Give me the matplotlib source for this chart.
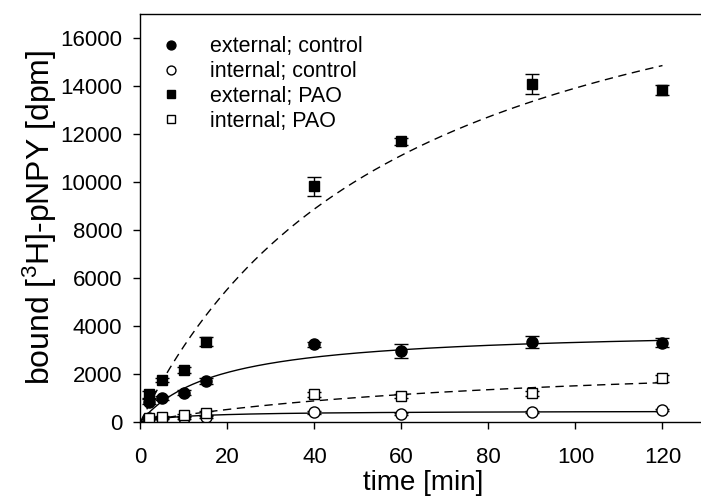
import numpy as np
import matplotlib
matplotlib.use("Agg")
import matplotlib.pyplot as plt

plt.rcParams['font.family'] = ['Liberation Sans', 'DejaVu Sans']
plt.rcParams['mathtext.default'] = 'regular'

time = [2, 5, 10, 15, 40, 60, 90, 120]
ext_control = [835, 1000, 1210, 1700, 3230, 2950, 3340, 3300]
ext_control_err = [100, 80, 100, 110, 100, 300, 250, 200]
int_control = [150, 150, 150, 200, 390, 320, 390, 480]
int_control_err = [30, 30, 30, 30, 50, 40, 40, 40]
ext_pao = [1150, 1740, 2160, 3340, 9810, 11690, 14080, 13820]
ext_pao_err = [150, 100, 120, 200, 400, 150, 400, 200]
int_pao = [150, 180, 280, 350, 1140, 1070, 1180, 1810]
int_pao_err = [40, 40, 40, 80, 100, 80, 100, 150]

# fitted hyperbolic association curves: (Bmax, K)
fit_ext_control = (3900, 18)
fit_int_control = (458, 10.9)
fit_ext_pao = (22400, 61)
fit_int_pao = (2895, 93.4)

fig = plt.figure(figsize=(7.01, 5.04), dpi=100)
ax = fig.add_axes([0.2004, 0.1633, 0.8067, 0.8089])

tt = np.linspace(0, 120, 300)
def hyp(p):
    return p[0] * tt / (p[1] + tt)

ax.plot(tt, hyp(fit_ext_control), '-', color='black', lw=1.0)
ax.plot(tt, hyp(fit_int_control), '-', color='black', lw=1.0)
ax.plot(tt, hyp(fit_ext_pao), '--', color='black', lw=1.0, dashes=(6, 4))
ax.plot(tt, hyp(fit_int_pao), '--', color='black', lw=1.0, dashes=(6, 4))

kw = dict(ls='none', ecolor='black', elinewidth=1.0, capsize=5, capthick=1.0)
ax.errorbar(time, ext_control, yerr=ext_control_err, marker='o', ms=8,
            mfc='black', mec='black', label='external; control', **kw)
ax.errorbar(time, int_control, yerr=int_control_err, marker='o', ms=8,
            mfc='white', mec='black', label='internal; control', **kw)
ax.errorbar(time, ext_pao, yerr=ext_pao_err, marker='s', ms=7,
            mfc='black', mec='black', label='external; PAO', **kw)
ax.errorbar(time, int_pao, yerr=int_pao_err, marker='s', ms=7,
            mfc='white', mec='black', label='internal; PAO', **kw)

ax.set_xlim(0, 130)
ax.set_ylim(0, 17000)
ax.set_xticks([0, 20, 40, 60, 80, 100, 120])
ax.set_yticks(range(0, 16001, 2000))
ax.tick_params(direction='out', length=5, width=1.0, labelsize=16)
ax.tick_params(axis='x', pad=13)
ax.tick_params(axis='y', pad=8)
for s in ax.spines.values():
    s.set_linewidth(1.0)

ax.set_xlabel('time [min]', fontsize=20, labelpad=2)
ax.set_ylabel('bound [$^{3}$H]-pNPY [dpm]', fontsize=23, labelpad=1)

h, l = ax.get_legend_handles_labels()
h = [x[0] for x in h]
ax.legend(h, l, loc='upper left', bbox_to_anchor=(0.0, 0.993), frameon=False,
          fontsize=15.5, markerscale=0.8, handlelength=1.0, handletextpad=1.35,
          labelspacing=0.18, borderaxespad=0.5)

fig.savefig('out.png', dpi=100)
